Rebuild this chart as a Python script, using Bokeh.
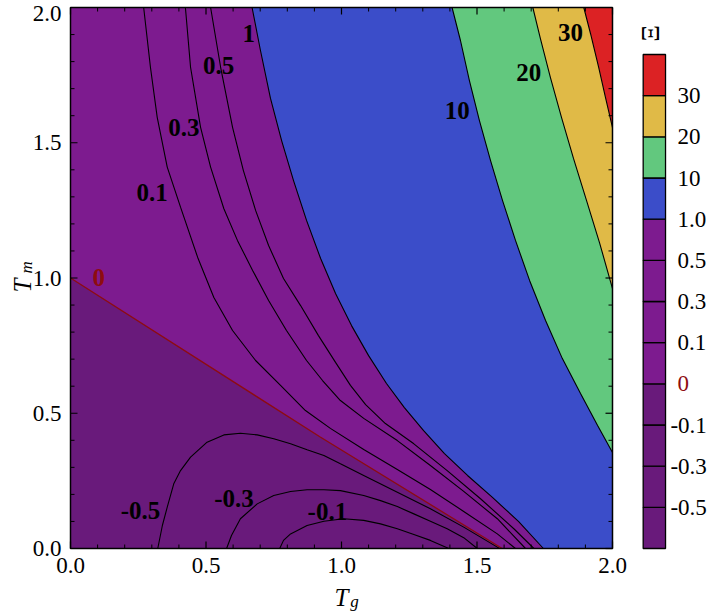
import math
from bokeh.plotting import figure
from bokeh.models import Range1d, ColumnDataSource
from bokeh.embed import file_html
from bokeh.resources import INLINE
from bokeh.core.properties import value

# ---------------- data ----------------
TG_RANGE = (0.0, 2.0)
TM_RANGE = (0.0, 2.0)
TICK_MAJOR = [0.0, 0.5, 1.0, 1.5, 2.0]
TICK_MINOR = [0.1, 0.2, 0.3, 0.4, 0.6, 0.7, 0.8, 0.9, 1.1, 1.2, 1.3, 1.4, 1.6, 1.7, 1.8, 1.9]

# zero level (dark red line)
zero_tg = [0.0, 0.92, 1.593]
zero_tm = [1.0, 0.413, 0.0]

# positive levels
c01_tg = [0.270, 0.295, 0.320, 0.357, 0.406, 0.469, 0.529, 0.598, 0.683, 0.775, 0.867, 0.959, 1.082, 1.206, 1.328, 1.451, 1.575, 1.642]
c01_tm = [2.000, 1.779, 1.594, 1.410, 1.262, 1.077, 0.928, 0.806, 0.695, 0.603, 0.510, 0.444, 0.366, 0.292, 0.218, 0.137, 0.054, 0.000]

c03_tg = [0.424, 0.443, 0.480, 0.517, 0.566, 0.616, 0.672, 0.731, 0.797, 0.871, 0.930, 0.996, 1.082, 1.206, 1.328, 1.451, 1.575, 1.679]
c03_tm = [2.000, 1.779, 1.557, 1.410, 1.256, 1.139, 1.028, 0.917, 0.806, 0.695, 0.621, 0.547, 0.481, 0.399, 0.307, 0.211, 0.110, 0.000]

c05_tg = [0.517, 0.554, 0.598, 0.638, 0.683, 0.731, 0.786, 0.849, 0.915, 0.978, 1.033, 1.089, 1.162, 1.267, 1.390, 1.513, 1.636, 1.710]
c05_tm = [2.000, 1.779, 1.557, 1.397, 1.250, 1.120, 0.998, 0.898, 0.787, 0.688, 0.603, 0.532, 0.462, 0.387, 0.288, 0.184, 0.073, 0.000]

c1_tg = [0.670, 0.701, 0.738, 0.779, 0.823, 0.871, 0.923, 0.978, 1.037, 1.100, 1.166, 1.232, 1.303, 1.380, 1.465, 1.557, 1.653, 1.745]
c1_tm = [2.000, 1.841, 1.664, 1.508, 1.360, 1.213, 1.072, 0.943, 0.824, 0.713, 0.610, 0.521, 0.436, 0.351, 0.270, 0.189, 0.100, 0.000]

c10_tg = [1.408, 1.439, 1.472, 1.509, 1.550, 1.594, 1.642, 1.694, 1.753, 1.815, 1.882, 1.945, 2.000]
c10_tm = [2.000, 1.878, 1.730, 1.582, 1.434, 1.287, 1.139, 0.991, 0.843, 0.702, 0.573, 0.455, 0.355]

c20_tg = [1.706, 1.734, 1.771, 1.812, 1.856, 1.904, 1.952, 2.000]
c20_tm = [2.000, 1.885, 1.741, 1.593, 1.442, 1.287, 1.131, 0.961]

c30_tg = [1.894, 1.919, 1.949, 1.974, 2.000]
c30_tm = [2.000, 1.903, 1.779, 1.668, 1.556]

# negative levels
cm05_tg = [0.322, 0.339, 0.357, 0.381, 0.406, 0.443, 0.504, 0.566, 0.627, 0.689, 0.750, 0.812, 0.873, 0.935, 0.996, 1.082, 1.206, 1.328, 1.451, 1.575, 1.582]
cm05_tm = [0.000, 0.085, 0.153, 0.239, 0.288, 0.338, 0.393, 0.420, 0.426, 0.420, 0.406, 0.387, 0.365, 0.344, 0.313, 0.270, 0.208, 0.147, 0.079, 0.005, 0.000]

cm03_tg = [0.576, 0.594, 0.627, 0.689, 0.750, 0.812, 0.873, 0.935, 0.996, 1.082, 1.144, 1.206, 1.267, 1.328, 1.390, 1.451, 1.501]
cm03_tm = [0.000, 0.048, 0.110, 0.165, 0.196, 0.211, 0.217, 0.217, 0.214, 0.196, 0.177, 0.155, 0.128, 0.101, 0.073, 0.040, 0.000]

cm01_tg = [0.772, 0.786, 0.812, 0.873, 0.935, 1.008, 1.082, 1.144, 1.206, 1.267, 1.328, 1.396]
cm01_tm = [0.000, 0.030, 0.054, 0.085, 0.101, 0.110, 0.104, 0.091, 0.073, 0.052, 0.030, 0.000]

# contour label texts and their places
clabel_text = ["1", "0.5", "0.3", "0.1", "0", "-0.5", "-0.3", "-0.1", "10", "20", "30"]
clabel_tg = [0.658, 0.547, 0.418, 0.301, 0.104, 0.258, 0.603, 0.948, 1.427, 1.691, 1.845]
clabel_tm = [1.903, 1.786, 1.558, 1.317, 1.003, 0.140, 0.184, 0.137, 1.619, 1.761, 1.906]

# colour bar tick labels (level boundaries, bottom to top)
cbar_labels = ["-0.5", "-0.3", "-0.1", "0", "0.1", "0.3", "0.5", "1.0", "10", "20", "30"]

# ---------------- styles / layout sizes (pixels) ----------------
NEG = "#691a7b"
POS = "#7d1b8f"
BLUE = "#3b4dc9"
GREEN = "#62c87e"
YELLOW = "#e0ba47"
RED = "#dc2224"
ZERO = "#8e0c10"
band_colors = [NEG, NEG, NEG, NEG, POS, POS, POS, POS, BLUE, GREEN, YELLOW, RED]
SERIF = "Liberation Serif"

CANVAS_W, CANVAS_H = 710, 611
PLOT_LEFT, PLOT_TOP, PLOT_W, PLOT_H = 70, 7, 542, 541
CB_LEFT, CB_W, CB_BAR_TOP, CB_BAR_BOTTOM = 622, 88, 54, 548

x0, x1 = TG_RANGE
y0, y1 = TM_RANGE
PX_X = PLOT_W / (x1 - x0)
PX_Y = PLOT_H / (y1 - y0)
gap_right = CANVAS_W - PLOT_LEFT - PLOT_W
gap_bottom = CANVAS_H - PLOT_TOP - PLOT_H

p = figure(frame_width=CANVAS_W, frame_height=CANVAS_H,
           x_range=Range1d(x0 - PLOT_LEFT / PX_X, x1 + gap_right / PX_X),
           y_range=Range1d(y0 - gap_bottom / PX_Y, y1 + PLOT_TOP / PX_Y),
           min_border=0, x_axis_location=None, y_axis_location=None,
           toolbar_location=None, output_backend="svg")
p.grid.visible = False
p.outline_line_color = None

# ---- filled bands ----
p.patch([x0, x1, x1, x0], [y0, y0, y1, y1], fill_color=NEG, line_color=None)
p.patch(zero_tg + [x1, x1, x0], zero_tm + [y0, y1, y1], fill_color=POS, line_color=None)
p.patch(c1_tg + [x1, x1], c1_tm + [y0, y1], fill_color=BLUE, line_color=None)
p.patch(c10_tg + [x1], c10_tm + [y1], fill_color=GREEN, line_color=None)
p.patch(c20_tg + [x1], c20_tm + [y1], fill_color=YELLOW, line_color=None)
p.patch(c30_tg + [x1], c30_tm + [y1], fill_color=RED, line_color=None)

# ---- contour lines ----
for xs, ys in [(c01_tg, c01_tm), (c03_tg, c03_tm), (c05_tg, c05_tm), (c1_tg, c1_tm),
               (c10_tg, c10_tm), (c20_tg, c20_tm), (c30_tg, c30_tm),
               (cm05_tg, cm05_tm), (cm03_tg, cm03_tm), (cm01_tg, cm01_tm)]:
    p.line(xs, ys, line_color="black", line_width=1.1)
p.line(zero_tg, zero_tm, line_color=ZERO, line_width=1.3)

lab_src = ColumnDataSource(dict(x=clabel_tg, y=clabel_tm, t=clabel_text,
                                c=[ZERO if t == "0" else "black" for t in clabel_text]))
p.text(x="x", y="y", text="t", text_color="c", source=lab_src,
       text_font=value(SERIF), text_font_style="bold", text_font_size="25px",
       text_align="center", text_baseline="middle")

# ---- frame and inward ticks on all four edges ----
p.quad(left=[x0], right=[x1], bottom=[y0], top=[y1], fill_color=None,
       line_color="black", line_width=1.5)
nM = len(TICK_MAJOR)
for ticks, length, width in [(TICK_MAJOR, 7, 1.2), (TICK_MINOR, 4, 1.0)]:
    k = len(ticks)
    for xs, ys, ang in [(ticks, [y0] * k, math.pi / 2), (ticks, [y1] * k, -math.pi / 2),
                        ([x0] * k, ticks, 0.0), ([x1] * k, ticks, math.pi)]:
        p.ray(x=xs, y=ys, length=length, length_units="screen", angle=ang,
              line_color="black", line_width=width)

# ---- tick labels ----
tick_txt = ["%.1f" % t for t in TICK_MAJOR]
p.text(x=TICK_MAJOR, y=[y0 - 9 / PX_Y] * nM, text=tick_txt,
       text_font=value(SERIF), text_font_size="23px",
       text_align="center", text_baseline="top")
# the topmost label is kept inside the page edge, as in the original
ylab_pos = [min(t, y1 - 6 / PX_Y) for t in TICK_MAJOR]
p.text(x=[x0 - 9 / PX_X] * nM, y=ylab_pos, text=tick_txt,
       text_font=value(SERIF), text_font_size="23px",
       text_align="right", text_baseline="middle")

# ---- axis titles T_g and T_m ----
p.text(x=[x0 + (x1 - x0) / 2], y=[y0 - 49 / PX_Y], text=["T"],
       text_font=value(SERIF), text_font_style="italic", text_font_size="25px",
       text_align="center", text_baseline="alphabetic")
p.text(x=[x0 + (x1 - x0) / 2 + 13 / PX_X], y=[y0 - 53 / PX_Y], text=["g"],
       text_font=value(SERIF), text_font_style="italic", text_font_size="17px",
       text_align="center", text_baseline="alphabetic")
p.text(x=[x0 - 48 / PX_X], y=[0.972], text=["T"], angle=math.pi / 2,
       text_font=value(SERIF), text_font_style="italic", text_font_size="25px",
       text_align="center", text_baseline="alphabetic")
p.text(x=[x0 - 44 / PX_X], y=[1.039], text=["m"], angle=math.pi / 2,
       text_font=value(SERIF), text_font_style="italic", text_font_size="17px",
       text_align="center", text_baseline="alphabetic")

# ---- colour bar (own coordinate ranges) ----
n = len(band_colors)
seg_px = (CB_BAR_BOTTOM - CB_BAR_TOP) / n
p.extra_x_ranges = {"cb": Range1d(-CB_LEFT / CB_W, (CANVAS_W - CB_LEFT) / CB_W)}
p.extra_y_ranges = {"cb": Range1d(-(CANVAS_H - CB_BAR_BOTTOM) / seg_px, n + CB_BAR_TOP / seg_px)}
p.quad(left=0.235, right=0.489, bottom=list(range(n)), top=list(range(1, n + 1)),
       fill_color=band_colors, line_color="black", line_width=1.3,
       x_range_name="cb", y_range_name="cb")
cb_src = ColumnDataSource(dict(
    x=[0.545 if t.startswith("-") else 0.625 for t in cbar_labels],
    y=list(range(1, n)),
    t=cbar_labels,
    c=[ZERO if t == "0" else "black" for t in cbar_labels]))
p.text(x="x", y="y", text="t", text_color="c", source=cb_src,
       text_font=value(SERIF), text_font_size="23px",
       text_align="left", text_baseline="middle",
       x_range_name="cb", y_range_name="cb")
p.text(x=[0.318], y=[n + 21 / seg_px], text=["Ξ"], angle=math.pi / 2,
       text_font=value(SERIF), text_font_size="26px",
       text_align="center", text_baseline="middle",
       x_range_name="cb", y_range_name="cb")

open("out.html", "w").write(file_html(p, INLINE))
